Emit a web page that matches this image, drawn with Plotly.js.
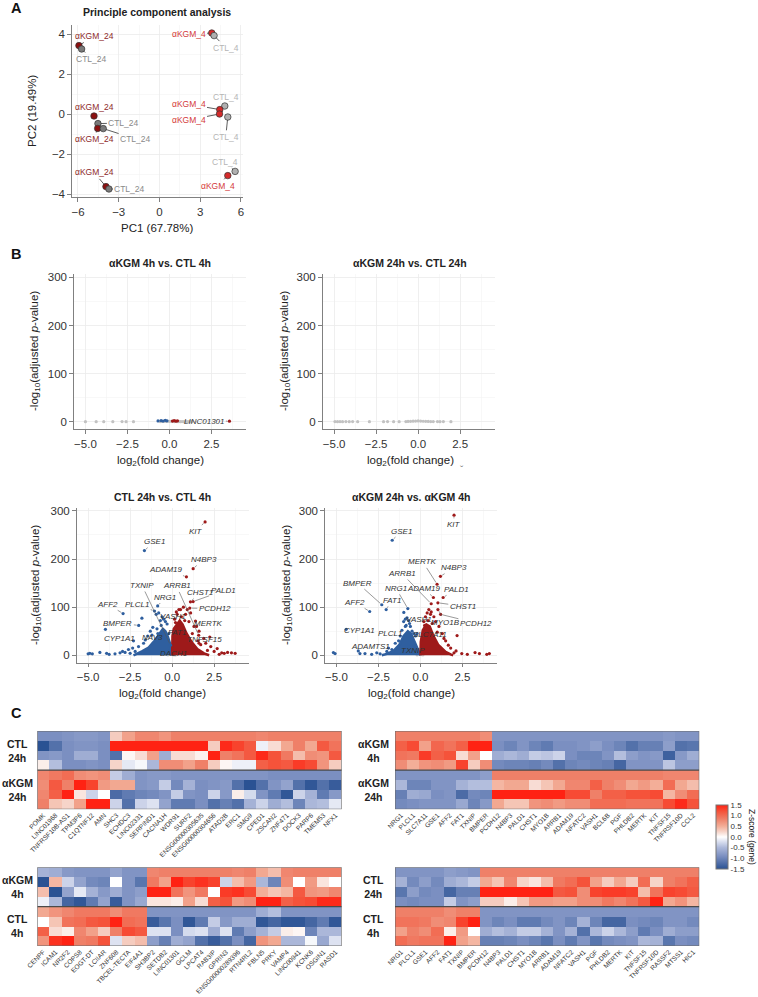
<!DOCTYPE html>
<html><head><meta charset="utf-8">
<script src="https://cdn.plot.ly/plotly-3.0.1.min.js"></script>
<style>html,body{margin:0;padding:0;background:#fff}#chart{width:758px;height:997px}</style>
</head><body><div id="chart"></div>
<script>
// ================= DATA =================
// --- A: PCA ---
const pcaSample = ['αKGM_24','CTL_24','αKGM_4','CTL_4','αKGM_24','CTL_24','αKGM_24','CTL_24','CTL_4','αKGM_4','αKGM_4','CTL_4','CTL_4','αKGM_4','αKGM_24','CTL_24'];
const pcaPC1 = [-5.93,-5.73,3.85,4.02,-4.82,-4.53,-4.55,-4.14,4.81,4.44,4.42,5.03,5.57,5.03,-3.94,-3.72];
const pcaPC2 = [3.42,3.25,4.05,3.92,-0.10,-0.48,-0.72,-0.73,0.40,0.22,0.00,-0.15,-2.87,-3.08,-3.63,-3.75];

// --- B: volcano 1 (αKGM 4h vs CTL 4h) ---
const v1NsX = [-5.0,-4.36,-3.91,-3.37,-2.82,-2.58,-2.14,-0.55,-0.45,-0.3,-0.2,-0.1,0.0,0.1,0.2,0.3,0.45,0.55,0.65,0.75,0.85,0.95,1.05,1.15,1.25,1.35];
const v1NsY = [0.3,0.3,0.3,0.3,0.4,0.3,0.3,0.5,0.8,1.0,0.6,1.2,0.9,1.1,0.7,0.5,0.4,0.4,0.3,0.4,0.3,0.3,0.3,0.3,0.3,0.3];
const v1DnX = [-0.68,-0.5,-0.38,-0.25,-0.15];
const v1DnY = [1.8,2.5,1.5,3.0,2.0];
const v1UpX = [0.18,0.28,0.38,0.48];
const v1UpY = [1.5,2.5,1.2,2.0];
const v1Genes = ['LINC01301'];
const v1GX = [3.57], v1GY = [1.3], v1GDir = ['up'];

// --- B: volcano 2 (αKGM 24h vs CTL 24h) ---
const v2NsX = [-4.95,-4.8,-4.65,-4.5,-4.3,-4.1,-3.9,-3.6,-2.9,-2.06,-1.82,-1.46,-1.13,-0.73,-0.6,-0.45,-0.3,-0.15,0.0,0.15,0.3,0.45,0.6,0.75,0.9,1.15,1.3,1.5,1.95];
const v2NsY = [0.4,0.3,0.5,0.3,0.4,0.3,0.4,0.3,0.3,0.3,0.4,0.3,0.3,0.5,0.8,1.0,1.2,1.5,1.8,1.4,1.1,0.9,0.7,0.5,0.4,0.4,0.3,0.4,0.3];

// --- B: volcano 3 (CTL 24h vs CTL 4h) ---
const v3NsX = [-0.25,-0.1,0.0,0.05,0.1,0.2];
const v3NsY = [1,2,1.5,3,1,0.8];
const v3DnCloudX = [-2.3,-2.1,-1.8,-1.4,-1.05,-0.75,-0.55,-0.4,-0.25,-0.1,0.0,0.0];
const v3DnCloudY = [0,3,8,16,30,45,55,50,38,22,5,0];
const v3UpCloudX = [0.0,0.02,0.1,0.3,0.45,0.62,0.85,1.15,1.5,1.9,2.2];
const v3UpCloudY = [0,40,55,66,72,64,46,28,13,4,0];
const v3DnX = [-5.0,-4.9,-4.75,-4.3,-3.97,-3.9,-3.75,-3.4,-3.1,-2.95,-2.8,-2.6,-2.5,-2.35,-2.2,-1.8,-1.6,-1.45,-1.3,-1.15,-0.95,-0.8,-0.7,-0.6,-0.5,-0.4,-0.3,-2.0,-1.7,-1.2,-0.9,-0.65,-0.2];
const v3DnY = [3,4,3,6,54,4,2,3,5,8,6,12,4,15,8,77,32,40,50,58,85,88,72,80,75,70,65,18,25,42,55,62,45];
const v3UpX = [0.15,0.25,0.3,0.4,0.67,0.8,0.9,1.0,1.1,1.3,1.45,1.55,1.6,1.88,2.0,2.24,2.3,2.5,2.68,2.8,2.95,3.1,3.3,3.53,3.75,0.2,0.55,0.75,1.2,1.7,2.1];
const v3UpY = [75,90,85,95,100,85,95,70,88,60,60,30,50,35,25,38,18,8,14,2,5,4,6,5,4,68,80,72,45,22,10];
const v3Genes = ['KIT','GSE1','N4BP3','ADAM19','TXNIP','ARRB1','CHST1','PALD1','NRG1','AFF2','PLCL1','PCDH12','VASH1','MERTK','BMPER','CYP1A1','NAV3','FAT1','TNFSF15','DACH1'];
const v3GX = [1.96,-1.65,1.25,0.85,-0.1,1.58,1.09,1.25,-0.86,-2.92,-1.05,1.05,0.5,1.39,-1.99,-2.3,-0.85,0.35,1.6,-0.2];
const v3GY = [277,217.6,180,163,21,41.6,111,111.6,102.5,86.7,92,98,95,71,62,30,45,62,25,8];
const v3GDir = ['up','dn','up','up','dn','up','up','up','dn','dn','dn','up','up','up','dn','dn','dn','up','up','dn'];

// --- B: volcano 4 (αKGM 24h vs αKGM 4h) ---
const v4NsX = [-0.2,-0.05,0.05,0.15];
const v4NsY = [1,2,1.5,1];
const v4DnCloudX = [-2.3,-2.0,-1.6,-1.25,-1.0,-0.75,-0.55,-0.4,-0.22,-0.06,0.0];
const v4DnCloudY = [0,3,9,22,40,50,44,32,15,2,0];
const v4UpCloudX = [0.0,0.02,0.14,0.35,0.55,0.75,1.05,1.5,1.8,1.95];
const v4UpCloudY = [0,28,52,64,60,42,22,7,2,0];
const v4DnX = [-5.18,-5.08,-3.7,-3.6,-3.3,-2.9,-2.6,-2.4,-1.9,-1.5,-1.3,-1.2,-1.0,-0.99,-0.9,-0.8,-0.7,-0.6,-0.5,-0.4,-0.3,-1.7,-1.1,-0.85,-0.65];
const v4DnY = [5.6,3.5,9,3.5,3.5,2,5,3,15,25,30,40,70,89,75,78,72,60,50,45,40,12,52,62,66];
const v4UpX = [0.2,0.3,0.4,0.5,0.6,0.8,0.9,1.1,1.3,1.4,1.5,1.66,1.8,2.0,2.12,2.18,2.46,2.79,3.25,3.51,3.95,4.1,0.25,0.45,0.7,1.0];
const v4UpY = [70,80,88,95,85,80,70,60,45,35,30,21,15,5,9,41,3.5,2,5.6,3.5,2,3.5,62,72,66,48];
const v4Genes = ['KIT','GSE1','MERTK','N4BP3','ARRB1','ADAM19','NRG1','PALD1','CHST1','FAT1','VASH1','MYO1B','PCDH12','PLCL1','SLC7A11','ADAMTS1','TXNIP','BMPER','AFF2','CYP1A1'];
const v4GX = [2.0,-1.68,0.99,1.19,0.64,0.77,-0.75,1.35,1.04,-2.04,0.64,1.04,1.2,-0.9,-0.2,-2.0,-0.3,-2.3,-3.02,-4.42];
const v4GY = [291,239,147.6,164,107,120,97,120,109,95,90,95,85,60,45,8,20,105,91,54];
const v4GDir = ['up','dn','up','up','up','up','dn','up','up','dn','up','up','up','dn','dn','dn','dn','dn','dn','dn'];

// --- C: heatmaps (z-score per gene) ---
const hm1Genes = ['POMK','LINC01968','TNFRSF10B-AS1','TPM3P6','C1QTNF12','AMN','SHC3','ECHDC3','LINC02331','SERPIND1','CACNA1H','WDR91','SURF2','ENSG00000305635','ENSG00000304656','ATAD2B','ERC1','SMG9','CPED1','ZSCAN2','ZNF471','DOCK3','PARP6','TMEM53','NFX1'];
const hm1Groups = ['CTL<br>24h','αKGM<br>24h'];
const hm1Z = [
 [-0.9,-0.9,-0.85,-0.8,-0.8,-0.85,0.3,0.6,0.8,0.8,0.7,0.85,0.85,0.85,0.85,0.85,0.85,0.85,0.8,0.85,0.85,0.85,0.85,0.85,0.85],
 [-1.5,-1.2,-0.9,-0.85,-0.85,-0.9,1.5,1.5,1.5,1.5,1.5,1.5,1.5,1.5,0.3,1.45,1.3,1.15,-0.1,0.2,0.55,0.85,0.55,1.15,0.95],
 [-0.85,-0.8,-0.9,-0.6,-0.6,-0.9,-1.2,0.05,0.2,0.6,-0.6,0.2,0.2,0.08,1.5,0.85,0.95,1.15,1.45,1.2,0.9,0.4,0.75,0.7,1.15],
 [0.1,-0.45,-0.9,-0.9,-0.85,-0.9,0.25,-0.15,-0.05,-0.5,0.75,0.75,0.6,0.85,0.3,0.05,-0.1,-0.1,1.1,1.2,1.15,1.35,1.25,0.7,0.3],
 [0.8,0.9,1.0,0.75,0.7,0.75,-0.35,-0.6,-0.85,-0.8,-0.8,-0.85,-0.85,-0.85,-0.85,-0.85,-0.85,-0.85,-0.85,-0.9,-0.9,-0.9,-0.9,-0.9,-0.9],
 [0.75,1.15,0.85,1.5,1.3,0.65,0.55,0.55,-0.85,-0.8,-0.35,-0.95,-0.55,-0.9,-0.85,-0.8,-1.2,-1.5,-1.2,-0.85,-0.7,-1.2,-1.45,-1.2,-1.4],
 [0.8,1.1,1.5,0.15,-0.3,0.0,-1.25,-1.1,-1.0,-0.95,-0.85,-0.35,-0.85,-0.9,-0.3,-0.8,0.1,-0.25,-0.85,-1.1,-1.45,-0.3,-0.55,-1.1,-0.8],
 [0.85,0.35,0.25,0.6,1.5,1.5,-0.3,-1.2,-0.3,-0.2,-0.7,-1.1,-1.1,-0.9,-1.2,-1.05,-1.2,-0.55,-0.3,-0.6,-0.45,-1.0,-0.5,-0.45,-0.15]
];
const hm2Genes = ['NRG1','PLCL1','SLC7A11','GSE1','AFF2','FAT1','TXNIP','BMPER','PCDH12','N4BP3','PALD1','CHST1','MYO1B','ARRB1','ADAM19','NFATC2','VASH1','BCL6B','PGF','PHLDB2','MERTK','KIT','TNFSF15','TNFRSF10D','CCL2'];
const hm2Groups = ['αKGM<br>4h','αKGM<br>24h'];
const hm2Z = [
 [0.85,0.85,0.85,0.85,0.85,0.85,0.85,0.75,-0.85,-0.85,-0.85,-0.85,-0.85,-0.85,-0.85,-0.85,-0.85,-0.85,-0.85,-0.85,-0.85,-0.85,-0.8,-0.85,-0.85],
 [1.1,1.25,0.6,1.05,0.95,1.1,1.5,1.5,-0.9,-1.0,-0.85,-1.0,-1.1,-0.9,-0.9,-0.85,-0.75,-0.9,-1.0,-1.2,-1.05,-1.05,-0.75,-1.2,-1.15],
 [0.95,0.9,1.35,1.1,1.2,0.2,0.6,0.0,-0.6,-0.5,-0.6,-0.35,-0.4,-0.3,-0.9,-1.0,-1.0,-0.85,-0.45,-0.75,-0.85,-0.8,-1.35,-0.8,-0.6],
 [0.75,0.5,0.7,0.75,0.65,1.3,0.3,0.75,-0.95,-1.0,-1.0,-1.05,-0.95,-1.2,-1.0,-0.95,-1.0,-1.05,-1.3,-0.85,-0.85,-0.85,-0.4,-0.75,-0.75],
 [-0.85,-0.85,-0.85,-0.85,-0.85,-0.85,-0.85,-0.75,0.85,0.85,0.85,0.85,0.85,0.85,0.85,0.85,0.85,0.85,0.85,0.85,0.85,0.85,0.8,0.8,0.8],
 [-0.5,-1.0,-1.0,-0.85,-0.85,-0.55,-0.45,-0.45,0.45,0.55,0.55,0.2,0.35,0.55,0.8,0.8,1.1,0.85,0.75,0.55,0.65,0.5,1.0,0.55,0.4],
 [-1.05,-0.6,-0.65,-0.9,-0.85,-1.25,-0.95,-1.0,1.5,1.5,1.5,1.5,1.5,1.5,1.25,1.25,0.85,1.1,1.1,1.2,1.2,1.25,0.45,0.75,1.0],
 [-0.95,-0.9,-0.85,-0.85,-0.85,-0.65,-1.0,-0.8,0.55,0.35,0.35,0.7,0.75,0.65,0.75,0.75,1.0,1.0,1.0,0.95,0.95,0.95,1.25,1.45,1.2]
];
const hm3Genes = ['CENPF','ICAM1','NR2F2','COPS8','EOGT-DT','LCIIAR','ZNF608','TBCEL-TECTA','EIF4A1','SH3BP2','SETDB2','LINC01301','GCLM','LPCAT4','RAB3IP','GPRIN3','ENSG00000289396','RTN4RL2','FBLN5','PRKY','VAMP4','LINC00941','KCNK6','OSGIN1','RASD1'];
const hm3Groups = ['αKGM<br>4h','CTL<br>4h'];
const hm3Z = [
 [-0.55,-0.6,-0.8,-0.85,-0.85,-0.85,-0.7,-0.85,-0.85,0.8,0.85,0.85,0.85,0.85,0.85,0.85,0.8,0.85,0.55,0.4,0.8,0.85,0.85,0.85,0.85],
 [-1.5,0.45,-0.3,-0.7,-0.95,-1.0,0.0,-0.85,-1.15,0.9,0.6,1.5,1.3,1.4,1.3,-0.3,0.4,0.65,-0.5,-1.0,0.75,0.0,0.65,0.15,0.0],
 [0.4,-1.5,-0.7,-0.15,-0.55,-0.8,-0.6,-0.85,-0.75,1.5,1.5,0.95,0.7,0.9,0.0,1.35,1.4,1.25,0.5,0.35,0.45,1.15,0.7,0.65,0.8],
 [-0.1,-0.5,-1.3,-1.45,-1.1,-0.7,-1.4,-0.85,-0.65,0.15,0.15,0.1,0.6,0.2,1.1,1.2,0.65,0.75,1.5,1.5,1.1,1.2,1.25,1.45,1.45],
 [0.55,0.7,0.8,0.9,0.9,0.9,0.75,0.9,0.9,-0.85,-0.85,-0.85,-0.85,-0.85,-0.85,-0.85,-0.85,-0.85,-0.6,-0.45,-0.85,-0.85,-0.85,-0.85,-0.85],
 [0.0,0.35,0.95,1.0,1.15,1.2,1.5,1.0,0.95,-1.4,-1.15,-0.9,-1.45,-1.1,-0.35,-0.8,-0.6,-0.6,-1.45,-1.3,-1.45,-1.45,-1.3,-1.1,-1.45],
 [1.1,0.2,0.1,0.8,0.6,0.3,0.85,1.25,1.15,-0.2,-0.2,-0.9,-0.25,-0.2,-0.6,-0.2,-1.1,-0.75,-0.55,-0.35,0.1,0.05,-1.0,-0.5,-0.5],
 [0.7,1.4,1.5,0.85,0.9,1.2,-0.2,0.3,0.4,-0.75,-1.05,-0.6,-0.7,-1.2,-1.4,-1.2,-0.9,-1.3,0.7,0.55,-0.5,-0.5,-0.05,-0.65,-0.2]
];
const hm4Genes = ['NRG1','PLCL1','GSE1','AFF2','FAT1','TXNIP','BMPER','PCDH12','N4BP3','PALD1','CHST1','MYO1B','ARRB1','ADAM19','NFATC2','VASH1','PGF','PHLDB2','MERTK','KIT','TNFSF15','TNFRSF10D','RASSF2','MTSS1','HIC1'];
const hm4Groups = ['CTL<br>24h','CTL<br>4h'];
const hm4Z = [
 [-0.85,-0.85,-0.85,-0.85,-0.75,-0.8,-0.85,0.85,0.85,0.85,0.85,0.85,0.85,0.85,0.85,0.85,0.85,0.85,0.85,0.85,0.85,0.85,0.85,0.85,0.85],
 [-0.55,-0.95,-0.75,-0.95,-0.6,-0.5,-0.35,0.55,0.35,0.8,0.25,0.15,0.4,0.9,1.0,1.2,0.6,0.3,0.55,0.3,1.0,0.25,0.85,0.95,1.1],
 [-1.15,-0.75,-0.95,-0.9,-1.3,-1.05,-1.05,1.5,1.5,1.5,1.5,1.5,1.5,1.15,1.2,0.75,1.3,1.35,1.35,1.3,0.4,0.95,1.3,1.25,1.15],
 [-0.9,-0.95,-0.9,-0.9,-0.35,-0.85,-0.75,0.3,0.3,0.1,0.35,0.65,0.65,0.6,0.6,0.75,0.75,0.9,0.8,0.95,1.15,1.5,0.55,0.7,0.45],
 [0.85,0.85,0.85,0.85,0.75,0.85,0.85,-0.85,-0.85,-0.85,-0.85,-0.85,-0.85,-0.85,-0.85,-0.85,-0.85,-0.85,-0.85,-0.85,-0.85,-0.85,-0.85,-0.85,-0.85],
 [0.95,0.95,0.9,0.75,0.8,1.3,1.5,-0.85,-1.0,-0.9,-1.1,-1.1,-0.95,-0.85,-1.0,-0.55,-1.0,-1.3,-1.3,-0.9,-0.95,-1.0,-0.85,-0.85,-0.95],
 [0.6,0.85,0.75,1.0,0.1,0.65,0.0,-0.6,-0.45,-0.55,-0.35,-0.35,-0.55,-0.85,-0.55,-1.2,-0.5,-0.3,-0.5,-0.75,-1.1,-0.9,-0.6,-0.75,-0.75],
 [1.0,0.9,0.95,0.95,1.5,0.6,0.45,-1.05,-1.05,-1.0,-0.9,-1.0,-1.15,-0.9,-1.1,-0.85,-1.15,-0.95,-0.9,-0.85,-0.5,-0.55,-1.15,-0.9,-0.95]
];
const cbTicks = [-1.5,-1.0,-0.5,0.0,0.5,1.0,1.5];

// ================= LAYOUT HELPERS =================
const W = 758, H = 997;
const FONT = '"Liberation Sans", Arial, sans-serif';
const dX = (a, b) => [a / W, b / W];
const dY = (t, b) => [1 - b / H, 1 - t / H];
const PX = a => a / W, PY = b => 1 - b / H;

function sAxis(domain, range, dtick, minor, anchor) {
  return {domain, range, dtick, tick0: 0, anchor, showline: true, linecolor: '#808080', linewidth: 1.2,
    ticks: 'outside', ticklen: 3.5, tickwidth: 1, tickcolor: '#808080', showgrid: true, gridcolor: '#ebebeb',
    gridwidth: 0.8, zeroline: false, minor: {dtick: minor, showgrid: true, gridcolor: '#f4f4f4', gridwidth: 0.6},
    tickfont: {family: FONT, size: 11.5, color: '#333'}, fixedrange: true};
}
function txt(text, x, y, size, opts) {
  return Object.assign({text, x: PX(x), y: PY(y), xref: 'paper', yref: 'paper', showarrow: false,
    xanchor: 'center', yanchor: 'middle', font: {family: FONT, size, color: '#222'}}, opts || {});
}

const layout = {width: W, height: H, margin: {l: 0, r: 0, t: 0, b: 0}, paper_bgcolor: '#fff', plot_bgcolor: 'rgba(0,0,0,0)',
  showlegend: false, hovermode: false, annotations: [], shapes: []};
const traces = [];

// ---------- A: PCA ----------
layout.xaxis = sAxis(dX(72, 243), [-6.44, 6.15], 3, 1.5, 'y');
layout.yaxis = sAxis(dY(25, 197), [-4.15, 4.45], 2, 1, 'x');
const ptCol = {'αKGM_24': '#8b1010', 'αKGM_4': '#d42a2a', 'CTL_24': '#7a7a7a', 'CTL_4': '#b0b0b0'};
const lbCol = {'αKGM_24': '#8e2a2a', 'αKGM_4': '#d43a3a', 'CTL_24': '#8a8a8a', 'CTL_4': '#b5b5b5'};
traces.push({type: 'scatter', mode: 'markers', x: pcaPC1, y: pcaPC2, xaxis: 'x', yaxis: 'y',
  marker: {size: 6.5, color: pcaSample.map(s => ptCol[s]), line: {color: '#333', width: 0.7}}});
const pcaLabelPos = [[-4.82,3.9],[-4.99,2.75],[2.14,3.99],[4.88,3.32],[-4.82,0.37],[-2.62,-0.45],[-4.82,-1.25],[-1.76,-1.25],[4.88,0.85],[2.14,0.49],[2.14,-0.3],[4.88,-1.14],[4.81,-2.39],[4.29,-3.59],[-4.82,-2.92],[-2.18,-3.75]];
pcaSample.forEach((s, i) => {
  layout.annotations.push({text: s, x: pcaPC1[i], y: pcaPC2[i], xref: 'x', yref: 'y', axref: 'x', ayref: 'y',
    ax: pcaLabelPos[i][0], ay: pcaLabelPos[i][1], showarrow: true, arrowhead: 0, arrowwidth: 0.8, arrowcolor: '#333',
    standoff: 3, font: {family: FONT, size: 8.5, color: lbCol[s]}});
});
layout.annotations.push(txt('<b>A</b>', 16, 8, 14.5, {font: {family: FONT, size: 14.5, color: '#111'}}));
layout.annotations.push(txt('<b>Principle component analysis</b>', 157, 12, 10.5));
layout.annotations.push(txt('PC1 (67.78%)', 157, 228, 11.5));
layout.annotations.push(txt('PC2 (19.49%)', 32, 111, 11.5, {textangle: -90}));

// ---------- B: volcanoes ----------
const BLUE = '#2f5f9f', RED = '#9e1a1a', GREY = '#c2c2c2';
const vDom = [
  {xd: dX(74, 246.4), yd: dY(274, 429), tx: 160, ty: 263, xt: 160, xty: 461, yt: 35, yty: 351},
  {xd: dX(322.7, 495.1), yd: dY(274, 429), tx: 410, ty: 263, xt: 410, xty: 461, yt: 285, yty: 351},
  {xd: dX(76.7, 249.1), yd: dY(507.5, 662.5), tx: 162, ty: 497, xt: 162, xty: 694, yt: 36, yty: 585},
  {xd: dX(325, 497.4), yd: dY(507.5, 662.5), tx: 411, ty: 497, xt: 411, xty: 694, yt: 287, yty: 585}
];
const vTitles = ['<b>αKGM 4h vs. CTL 4h</b>', '<b>αKGM 24h vs. CTL 24h</b>', '<b>CTL 24h vs. CTL 4h</b>', '<b>αKGM 24h vs. αKGM 4h</b>'];
// label text positions (layout only)
const v1LabPos = [[2.08, 1.0]];
const v3LabPos = [[1.39,258],[-1.05,236],[1.88,199],[-0.36,178],[-1.79,145],[0.26,144],[1.64,130],[3.04,134],[-0.4,121],[-3.83,106],[-2.08,105],[2.54,97],[0.06,81],[2.18,66],[-3.23,67],[-3.13,34],[-1.19,37],[0.3,47],[1.93,32.6],[0.06,3.5]];
const v4LabPos = [[1.98,272],[-1.11,258],[0.14,194],[2.0,182],[-1.11,170],[0.2,139],[-1.45,139],[2.12,137],[2.52,102],[-1.71,114],[-0.1,75],[1.5,69],[3.3,67],[-1.81,46],[0.57,43],[-3.0,19],[-0.42,10],[-3.74,150],[-3.9,110],[-3.6,51]];

const volc = [
  {ns: [v1NsX, v1NsY], dnC: null, upC: null, dn: [v1DnX, v1DnY], up: [v1UpX, v1UpY], g: [v1Genes, v1GX, v1GY, v1GDir], lp: v1LabPos},
  {ns: [v2NsX, v2NsY], dnC: null, upC: null, dn: [[], []], up: [[], []], g: [[], [], [], []], lp: []},
  {ns: [v3NsX, v3NsY], dnC: [v3DnCloudX, v3DnCloudY], upC: [v3UpCloudX, v3UpCloudY], dn: [v3DnX, v3DnY], up: [v3UpX, v3UpY], g: [v3Genes, v3GX, v3GY, v3GDir], lp: v3LabPos},
  {ns: [v4NsX, v4NsY], dnC: [v4DnCloudX, v4DnCloudY], upC: [v4UpCloudX, v4UpCloudY], dn: [v4DnX, v4DnY], up: [v4UpX, v4UpY], g: [v4Genes, v4GX, v4GY, v4GDir], lp: v4LabPos}
];
volc.forEach((v, k) => {
  const n = k + 2, xa = 'x' + n, ya = 'y' + n, d = vDom[k];
  layout['xaxis' + n] = sAxis(d.xd, [-5.68, 4.58], 2.5, 1.25, ya);
  layout['xaxis' + n].tickformat = '.1f';
  layout['yaxis' + n] = sAxis(d.yd, [-15, 307], 100, 50, xa);
  traces.push({type: 'scatter', mode: 'markers', x: v.ns[0], y: v.ns[1], xaxis: xa, yaxis: ya, marker: {size: 3.2, color: GREY}});
  if (v.dnC) traces.push({type: 'scatter', mode: 'lines', x: v.dnC[0], y: v.dnC[1], xaxis: xa, yaxis: ya, fill: 'toself', fillcolor: BLUE, line: {width: 2.5, color: BLUE}});
  if (v.upC) traces.push({type: 'scatter', mode: 'lines', x: v.upC[0], y: v.upC[1], xaxis: xa, yaxis: ya, fill: 'toself', fillcolor: RED, line: {width: 2.5, color: RED}});
  const [gN, gX, gY, gD] = v.g;
  const dnX = v.dn[0].concat(gX.filter((_, i) => gD[i] === 'dn')), dnY = v.dn[1].concat(gY.filter((_, i) => gD[i] === 'dn'));
  const upX = v.up[0].concat(gX.filter((_, i) => gD[i] === 'up')), upY = v.up[1].concat(gY.filter((_, i) => gD[i] === 'up'));
  traces.push({type: 'scatter', mode: 'markers', x: dnX, y: dnY, xaxis: xa, yaxis: ya, marker: {size: 3.2, color: BLUE}});
  traces.push({type: 'scatter', mode: 'markers', x: upX, y: upY, xaxis: xa, yaxis: ya, marker: {size: 3.2, color: RED}});
  gN.forEach((name, i) => {
    layout.annotations.push({text: '<i>' + name + '</i>', x: gX[i], y: gY[i], xref: xa, yref: ya, axref: xa, ayref: ya,
      ax: v.lp[i][0], ay: v.lp[i][1], showarrow: true, arrowhead: 0, arrowwidth: 0.6, arrowcolor: '#555', standoff: 2,
      font: {family: FONT, size: 8, color: '#333'}});
  });
  layout.annotations.push(txt(vTitles[k], d.tx, d.ty, 10.5));
  layout.annotations.push(txt('log<sub>2</sub>(fold change)', d.xt, d.xty, 11.5));
  layout.annotations.push(txt('-log<sub>10</sub>(adjusted <i>p</i>-value)', d.yt, d.yty, 11.5, {textangle: -90}));
});
layout.annotations.push(txt('<b>B</b>', 16, 254, 14.5, {font: {family: FONT, size: 14.5, color: '#111'}}));
layout.annotations.push(txt('ˇ', 462, 470, 10, {font: {family: FONT, size: 10, color: '#777'}}));

// ---------- C: heatmaps ----------
const cscale = [[0, '#2a5293'], [0.2, '#7b8fc1'], [0.333, '#abb7d9'], [0.42, '#d6dcee'], [0.5, '#ffffff'],
  [0.583, '#f6d4c9'], [0.667, '#f3ae98'], [0.783, '#ef8068'], [0.9, '#f5533a'], [1, '#ff2213']];
const hms = [
  {genes: hm1Genes, z: hm1Z, groups: hm1Groups, xd: [37.3, 341.7], yd: [731, 809.3], lx: 17},
  {genes: hm2Genes, z: hm2Z, groups: hm2Groups, xd: [395, 699.3], yd: [731, 809.3], lx: 373},
  {genes: hm3Genes, z: hm3Z, groups: hm3Groups, xd: [37.3, 341.7], yd: [867.3, 946], lx: 17},
  {genes: hm4Genes, z: hm4Z, groups: hm4Groups, xd: [395, 699.3], yd: [867.3, 946], lx: 373}
];
hms.forEach((h, k) => {
  const n = k + 6, xa = 'x' + n, ya = 'y' + n;
  layout['xaxis' + n] = {domain: dX(h.xd[0], h.xd[1]), anchor: ya, type: 'category', range: [-0.5, 24.5],
    tickmode: 'array', tickvals: h.genes, ticktext: h.genes, tickangle: -45, ticks: '', showgrid: false, zeroline: false,
    showline: false, tickfont: {family: FONT, size: 6.6, color: '#333'}, fixedrange: true};
  layout['yaxis' + n] = {domain: dY(h.yd[0], h.yd[1]), anchor: xa, range: [7.5, -0.5], showticklabels: false,
    showgrid: false, zeroline: false, showline: false, ticks: '', fixedrange: true};
  const tr = {type: 'heatmap', x: h.genes, y: [0, 1, 2, 3, 4, 5, 6, 7], z: h.z, xaxis: xa, yaxis: ya,
    colorscale: cscale, zmin: -1.5, zmax: 1.5, showscale: k === 1};
  if (k === 1) {
    tr.colorbar = {x: PX(716), xanchor: 'left', y: PY(837), yanchor: 'middle', lenmode: 'pixels', len: 64,
      thickness: 11.5, thicknessmode: 'pixels', outlinewidth: 1, outlinecolor: '#777', ypad: 0, xpad: 0,
      tickmode: 'array', tickvals: cbTicks, ticktext: cbTicks.map(v => v.toFixed(1)), ticks: '',
      tickfont: {family: FONT, size: 8, color: '#333'}};
  }
  traces.push(tr);
  layout.shapes.push({type: 'rect', xref: xa, yref: ya, x0: -0.5, x1: 24.5, y0: -0.5, y1: 7.5, line: {color: '#6a6a6a', width: 1.1}});
  layout.shapes.push({type: 'line', xref: xa, yref: ya, x0: -0.5, x1: 24.5, y0: 3.5, y1: 3.5, line: {color: '#4a4a4a', width: 1.2}});
  const top = h.yd[0], mid = (h.yd[0] + h.yd[1]) / 2, bot = h.yd[1];
  layout.annotations.push(txt('<b>' + h.groups[0] + '</b>', h.lx, (top + mid) / 2, 10.5));
  layout.annotations.push(txt('<b>' + h.groups[1] + '</b>', h.lx, (mid + bot) / 2, 10.5));
});
layout.annotations.push(txt('<b>C</b>', 16, 713, 14.5, {font: {family: FONT, size: 14.5, color: '#111'}}));
layout.annotations.push(txt('Z-score (gene)', 752, 837, 8.5, {textangle: 90}));

Plotly.newPlot('chart', traces, layout, {staticPlot: true, displayModeBar: false});
</script>
</body></html>
